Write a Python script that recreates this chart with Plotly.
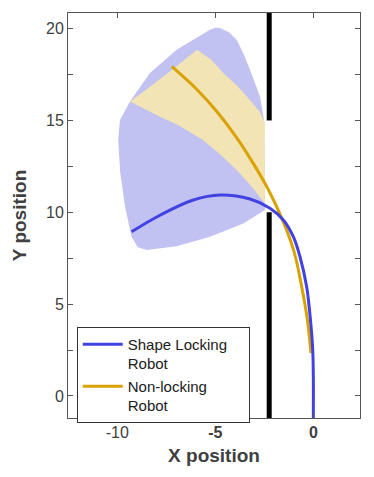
import plotly.graph_objects as go

# reachable region of the shape locking robot (blue patch)
lock_region_x = [-4.76, -4.3, -3.91, -3.55, -3.23, -2.72, -2.51, -2.47, -2.47, -3.57, -5.27,
                 -6.97, -8.5, -8.95, -9.27, -9.6, -9.85, -9.95, -9.86, -9.35, -8.33, -6.97,
                 -5.27, -5.0]
lock_region_y = [20.03, 19.8, 19.4, 18.6, 17.76, 16.3, 15.0, 12.5, 10.12, 9.39, 8.67,
                 8.15, 7.95, 8.1, 8.67, 10.3, 12.2, 13.94, 15.03, 16.03, 17.58, 18.85,
                 19.94, 20.05]

# reachable region of the non-locking robot (beige patch)
free_region_x = [-5.93, -5.2, -4.59, -3.9, -3.23, -2.75, -2.47, -2.47, -3.15, -3.91, -4.8,
                 -5.63, -6.9, -7.82, -9.35, -8.5, -7.65, -6.8]
free_region_y = [18.85, 18.3, 17.58, 16.9, 16.12, 15.5, 14.9, 10.48, 11.4, 12.3, 13.2,
                 13.94, 14.75, 15.2, 16.03, 16.7, 17.39, 18.1]

# robot backbones
lock_x = [0, 0, -0.03, -0.13, -0.34, -0.68, -1.02, -1.53, -2.21, -3.23, -4.76, -6.12, -7.82, -9.27]
lock_y = [-1.2, 1.0, 2.5, 3.95, 5.94, 7.58, 8.67, 9.58, 10.22, 10.72, 10.94, 10.67, 9.84, 8.94]

free_x = [-0.12, -0.30, -0.58, -0.98, -1.55, -2.31, -3.08, -3.94, -4.86, -5.95, -7.22]
free_y = [2.33, 4.13, 5.87, 7.84, 9.53, 11.27, 12.69, 14.11, 15.41, 16.70, 17.94]

# wall with an opening between y=10 and y=15
wall_x = [-2.25, -2.25, None, -2.25, -2.25]
wall_y = [-1.2, 10.0, None, 15.0, 20.85]

x_ticks = [-10, -5, 0]
x_labels = ["-10", "<b>-5</b>", "<b>0</b>"]
y_ticks = [0, 2.5, 5, 7.5, 10, 12.5, 15, 17.5, 20]
y_labels = ["0", "", "5", "", "10", "", "15", "", "20"]

pad = "&nbsp;" * 4  # legend box in the original is a bit wider than its text

fig = go.Figure()
fig.add_trace(go.Scatter(x=lock_region_x, y=lock_region_y, fill="toself", mode="none",
                         fillcolor="rgb(193,194,242)", showlegend=False, hoverinfo="skip"))
fig.add_trace(go.Scatter(x=free_region_x, y=free_region_y, fill="toself", mode="none",
                         fillcolor="rgb(242,228,180)", showlegend=False, hoverinfo="skip"))
fig.add_trace(go.Scatter(x=wall_x, y=wall_y, mode="lines", line=dict(color="black", width=5),
                         showlegend=False, hoverinfo="skip"))
fig.add_trace(go.Scatter(x=free_x, y=free_y, mode="lines", name="Non-locking<br>Robot",
                         line=dict(color="rgb(218,162,0)", width=3, shape="spline"), legendrank=2))
fig.add_trace(go.Scatter(x=lock_x, y=lock_y, mode="lines", name="Shape Locking" + pad + "<br>Robot",
                         line=dict(color="rgb(66,66,226)", width=3, shape="spline"), legendrank=1))

axis_font = dict(family="Liberation Sans, Arial, sans-serif", size=16, color="#404040")
title_font = dict(family="Liberation Sans, Arial, sans-serif", size=19, color="#404040")

# the page body adds an 8px margin, so the figure is sized to fit the window after it
fig.update_layout(
    width=366,
    height=469,
    margin=dict(l=60, r=14, t=5, b=59),
    plot_bgcolor="white",
    paper_bgcolor="white",
    legend=dict(
        x=0.03, y=0.225, xanchor="left", yanchor="top",
        bgcolor="white", bordercolor="#333333", borderwidth=1,
        font=dict(family="Liberation Sans, Arial, sans-serif", size=15, color="#202020"),
        valign="top", tracegroupgap=0, itemwidth=40,
    ),
)
fig.update_xaxes(
    range=[-12.51, 2.38], tickvals=x_ticks, ticktext=x_labels, automargin=False,
    ticks="inside", ticklen=5, tickcolor="#555555", mirror="ticks",
    showline=True, linecolor="#555555", linewidth=1, showgrid=False, zeroline=False,
    tickfont=axis_font, title=dict(text="<b>X position</b>", font=title_font, standoff=8),
)
fig.update_yaxes(
    range=[-1.2, 20.85], tickvals=y_ticks, ticktext=y_labels, automargin=False,
    ticks="inside", ticklen=5, tickcolor="#555555", mirror="ticks",
    showline=True, linecolor="#555555", linewidth=1, showgrid=False, zeroline=False,
    tickfont=axis_font, title=dict(text="<b>Y position</b>", font=title_font, standoff=14),
)

fig.write_html("out.html")
